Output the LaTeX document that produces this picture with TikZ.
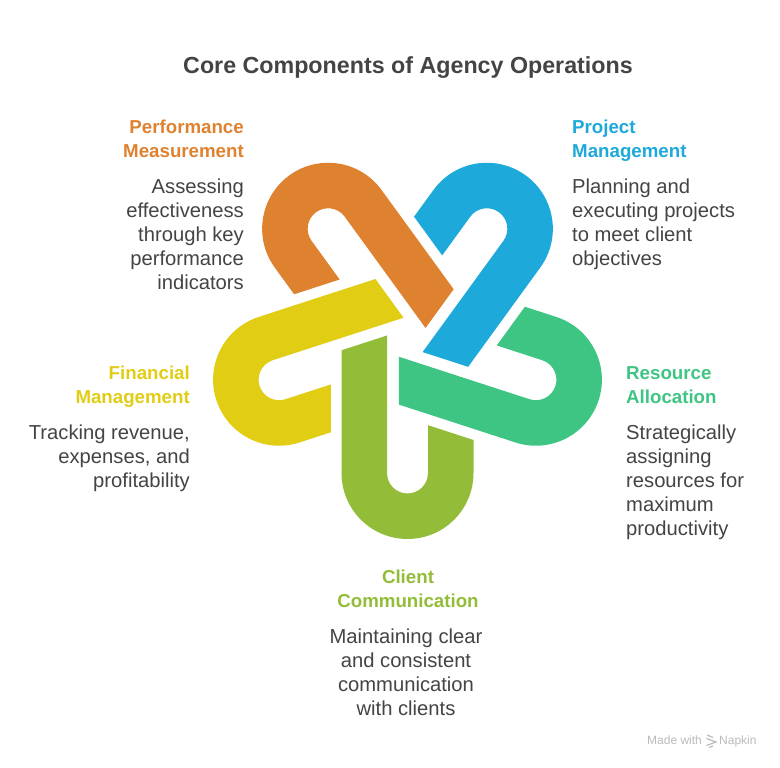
\documentclass[tikz,border=0pt]{standalone}
\usepackage{fontspec}
\setmainfont{Liberation Sans}
\definecolor{cOrange}{HTML}{DF8230}
\definecolor{cBlue}{HTML}{1DA9DA}
\definecolor{cGreen}{HTML}{3EC584}
\definecolor{cLime}{HTML}{93BD38}
\definecolor{cYellow}{HTML}{E0CD14}
\definecolor{cText}{HTML}{444444}
\definecolor{cMark}{HTML}{BBBBBB}
\newcommand\fl{\rule{0pt}{15pt}}
\newcommand\linkshape[1]{%
  \fill[#1] (0,66) arc[start angle=90,end angle=270,radius=66]
      -- (33,-66) -- (47.8,-20.5) -- (0,-20.5)
      arc[start angle=270,end angle=90,radius=20.5]
      -- (137.5,20.5) -- (122.7,66) -- cycle;}
\tikzset{
  head/.style={inner sep=0pt,font=\fontsize{18.7}{24}\selectfont\bfseries},
  body/.style={inner sep=0pt,text=cText,font=\fontsize{20.2}{24}\selectfont},
  markfont/.style={inner sep=0pt,anchor=base west,text=cMark,font=\fontsize{12}{14}\selectfont}
}
\begin{document}
\begin{tikzpicture}[x=1pt,y=1pt]
\useasboundingbox (0,0) rectangle (780,768);
\fill[white] (0,0) rectangle (780,768);
% centre of the pentagon
\coordinate (ctr) at (407.5,430);
\foreach \i/\c in {0/cOrange,1/cBlue,2/cGreen,3/cLime,4/cYellow}{
  \begin{scope}[shift={(ctr)},rotate=-72*\i]
    \begin{scope}[shift={(126:135)},rotate=-54]
      \linkshape{\c}
    \end{scope}
  \end{scope}
}
\node[inner sep=0pt,anchor=base,text=cText,font=\fontsize{23.25}{28}\selectfont\bfseries] (title) at (408,694) {Core Components of Agency Operations};

\node[head,text=cOrange,anchor=north east,align=right] (h1) at (244,650) {\fl Performance\\Measurement};
\node[body,anchor=north east,align=right] (b1) at (244,590) {\fl Assessing\\effectiveness\\through key\\performance\\indicators};

\node[head,text=cBlue,anchor=north west,align=left] (h2) at (572,650) {\fl Project\\Management};
\node[body,anchor=north west,align=left] (b2) at (572,590) {\fl Planning and\\executing projects\\to meet client\\objectives};

\node[head,text=cGreen,anchor=north west,align=left] (h3) at (626,404) {\fl Resource\\Allocation};
\node[body,anchor=north west,align=left] (b3) at (626,344) {\fl Strategically\\assigning\\resources for\\maximum\\productivity};

\node[head,text=cLime,anchor=north,align=center] (h4) at (408,200) {\fl Client\\Communication};
\node[body,anchor=north,align=center] (b4) at (406,140) {\fl Maintaining clear\\and consistent\\communication\\with clients};

\node[head,text=cYellow,anchor=north east,align=right] (h5) at (190,404) {\fl Financial\\Management};
\node[body,anchor=north east,align=right] (b5) at (190,344) {\fl Tracking revenue,\\expenses, and\\profitability};

\node[markfont] (m1) at (647,23) {Made with};
\node[markfont] (m2) at (719,23) {Napkin};
\draw[cMark,line width=1.2pt] (707,33) -- (713,30.5) (706.5,29.5) -- (716,26) -- (706.5,22.5) (709,20.5) -- (713,22);
\end{tikzpicture}
\end{document}
